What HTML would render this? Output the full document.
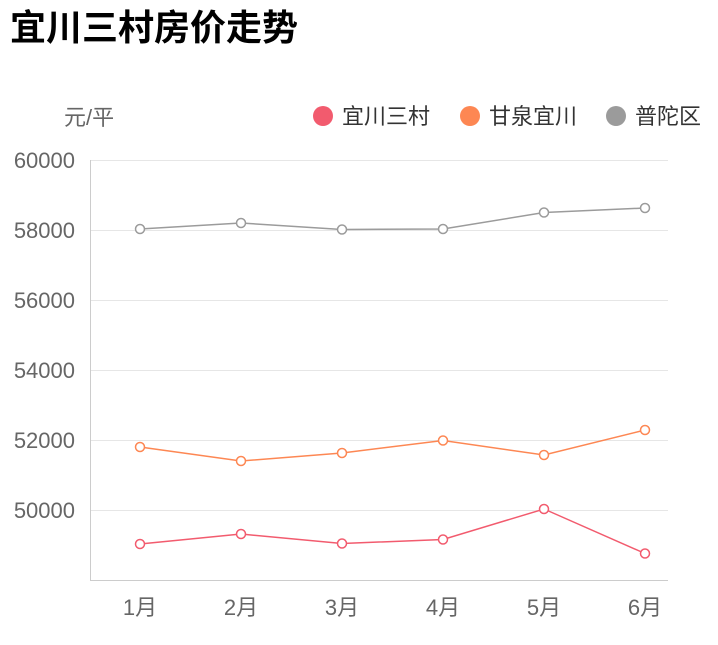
<!DOCTYPE html>
<html><head><meta charset="utf-8"><style>
body{margin:0;background:#fff;width:718px;height:640px;overflow:hidden;font-family:"Liberation Sans","Noto Sans CJK SC",sans-serif}
</style></head><body>
<svg width="718" height="640" xmlns="http://www.w3.org/2000/svg" font-family="Liberation Sans, Noto Sans CJK SC, sans-serif">
<text x="10" y="40" font-size="36" font-weight="bold" fill="#000">宜川三村房价走势</text>
<text x="64" y="125" font-size="22" fill="#666">元/平</text>
<circle cx="323" cy="116" r="10" fill="#f25b6e"/><text x="342" y="124" font-size="22" fill="#333">宜川三村</text>
<circle cx="470" cy="116" r="10" fill="#fd8753"/><text x="489" y="124" font-size="22" fill="#333">甘泉宜川</text>
<circle cx="616" cy="116" r="10" fill="#9b9b9b"/><text x="635" y="124" font-size="22" fill="#333">普陀区</text>
<g stroke="#e6e6e6" stroke-width="1">
<line x1="90" y1="160.5" x2="668" y2="160.5"/><line x1="90" y1="230.5" x2="668" y2="230.5"/>
<line x1="90" y1="300.5" x2="668" y2="300.5"/><line x1="90" y1="370.5" x2="668" y2="370.5"/>
<line x1="90" y1="440.5" x2="668" y2="440.5"/><line x1="90" y1="510.5" x2="668" y2="510.5"/>
</g>
<line x1="90.5" y1="160" x2="90.5" y2="580" stroke="#ccc"/>
<line x1="90" y1="580.5" x2="668" y2="580.5" stroke="#ccc"/>
<g font-size="22" fill="#666" text-anchor="end">
<text x="75" y="168">60000</text><text x="75" y="238">58000</text><text x="75" y="308">56000</text>
<text x="75" y="378">54000</text><text x="75" y="448">52000</text><text x="75" y="518">50000</text>
</g>
<g font-size="22" fill="#666" text-anchor="middle">
<text x="140" y="615">1月</text><text x="241" y="615">2月</text><text x="342" y="615">3月</text>
<text x="443" y="615">4月</text><text x="544" y="615">5月</text><text x="645" y="615">6月</text>
</g>
<g fill="#fff" stroke-width="1.5">
<polyline fill="none" stroke="#9b9b9b" points="140,229 241,223 342,229.5 443,229 544,212.5 645,208"/>
<g stroke="#9b9b9b"><circle cx="140" cy="229" r="4.5"/><circle cx="241" cy="223" r="4.5"/><circle cx="342" cy="229.5" r="4.5"/><circle cx="443" cy="229" r="4.5"/><circle cx="544" cy="212.5" r="4.5"/><circle cx="645" cy="208" r="4.5"/></g>
<polyline fill="none" stroke="#fd8753" points="140,447 241,461 342,453 443,440.5 544,455 645,430"/>
<g stroke="#fd8753"><circle cx="140" cy="447" r="4.5"/><circle cx="241" cy="461" r="4.5"/><circle cx="342" cy="453" r="4.5"/><circle cx="443" cy="440.5" r="4.5"/><circle cx="544" cy="455" r="4.5"/><circle cx="645" cy="430" r="4.5"/></g>
<polyline fill="none" stroke="#f25b6e" points="140,544 241,534 342,543.5 443,539.5 544,509 645,553.5"/>
<g stroke="#f25b6e"><circle cx="140" cy="544" r="4.5"/><circle cx="241" cy="534" r="4.5"/><circle cx="342" cy="543.5" r="4.5"/><circle cx="443" cy="539.5" r="4.5"/><circle cx="544" cy="509" r="4.5"/><circle cx="645" cy="553.5" r="4.5"/></g>
</g>
</svg>
</body></html>
